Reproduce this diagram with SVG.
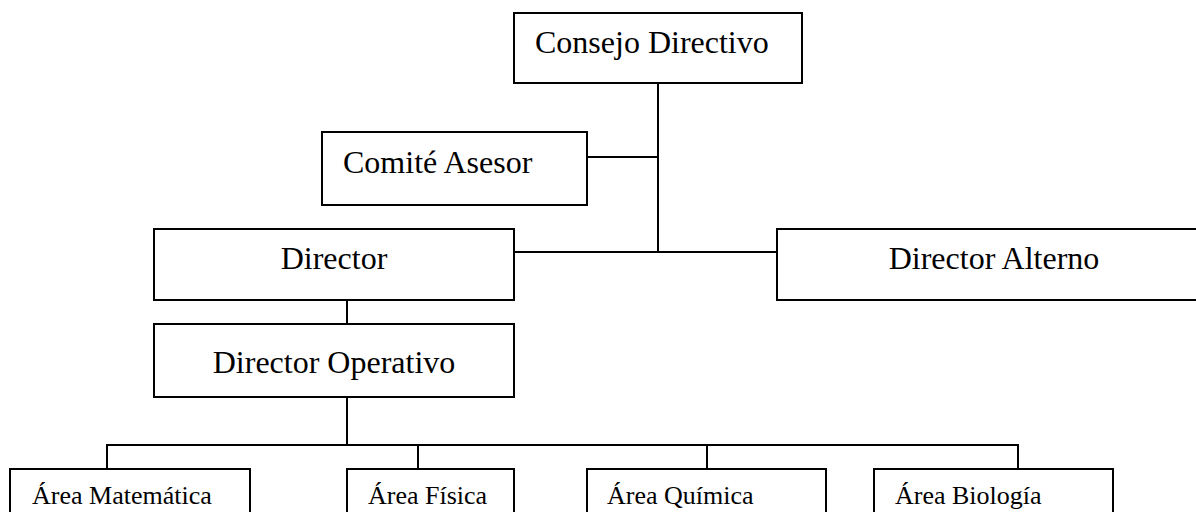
<svg xmlns="http://www.w3.org/2000/svg" width="1196" height="512" viewBox="0 0 1196 512">
<style>
.box{fill:#fff;stroke:#000;stroke-width:2}
.t{font-family:"Liberation Serif","Times New Roman",serif;font-size:32px;fill:#000}
.s{font-family:"Liberation Serif","Times New Roman",serif;font-size:26px;fill:#000}
.c{text-anchor:middle}
#connectors line{stroke:#000;stroke-width:2}
</style>
<rect width="1196" height="512" fill="#fff"/>
<g id="connectors">
<line x1="658" y1="83" x2="658" y2="252"/>
<line x1="587" y1="157" x2="658" y2="157"/>
<line x1="514" y1="252" x2="777" y2="252"/>
<line x1="347" y1="300" x2="347" y2="324"/>
<line x1="347" y1="397" x2="347" y2="445"/>
<line x1="106" y1="445" x2="1019" y2="445"/>
<line x1="107" y1="445" x2="107" y2="469"/>
<line x1="418" y1="445" x2="418" y2="469"/>
<line x1="707" y1="445" x2="707" y2="469"/>
<line x1="1018" y1="445" x2="1018" y2="469"/>
</g>
<g id="consejo">
<rect class="box" x="514" y="13" width="288" height="70"/>
<text class="t" x="535" y="53">Consejo Directivo</text>
</g>
<g id="comite">
<rect class="box" x="322" y="132" width="265" height="73"/>
<text class="t" x="343" y="173">Comité Asesor</text>
</g>
<g id="director">
<rect class="box" x="154" y="229" width="360" height="71"/>
<text class="t c" x="334" y="269">Director</text>
</g>
<g id="director-alterno">
<rect class="box" x="777" y="229" width="434" height="71"/>
<text class="t c" x="994" y="269">Director Alterno</text>
</g>
<g id="director-operativo">
<rect class="box" x="154" y="324" width="360" height="73"/>
<text class="t c" x="334" y="373">Director Operativo</text>
</g>
<g id="area-matematica">
<rect class="box" x="10" y="469" width="240" height="70"/>
<text class="s" x="32" y="504">Área Matemática</text>
</g>
<g id="area-fisica">
<rect class="box" x="347" y="469" width="167" height="70"/>
<text class="s" x="368" y="504">Área Física</text>
</g>
<g id="area-quimica">
<rect class="box" x="587" y="469" width="239" height="70"/>
<text class="s" x="607" y="504">Área Química</text>
</g>
<g id="area-biologia">
<rect class="box" x="874" y="469" width="239" height="70"/>
<text class="s" x="895" y="504">Área Biología</text>
</g>
</svg>
